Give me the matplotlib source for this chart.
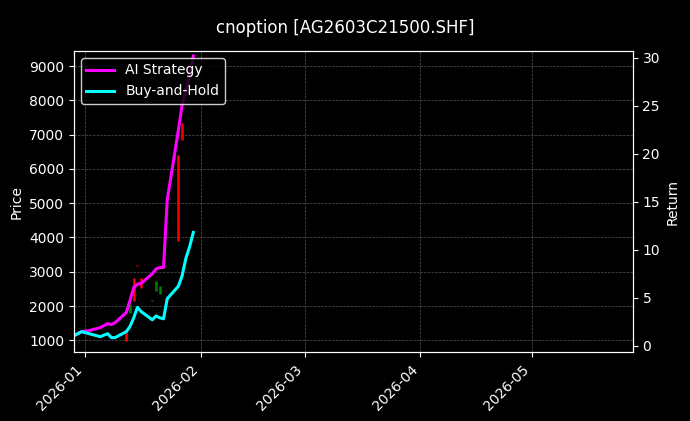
import matplotlib
matplotlib.use("Agg")
import matplotlib.pyplot as plt
import matplotlib.dates as mdates
import pandas as pd

plt.style.use("dark_background")

dates = pd.to_datetime(["2025-12-29","2025-12-31","2026-01-02","2026-01-05","2026-01-07","2026-01-08",
    "2026-01-09","2026-01-12","2026-01-13","2026-01-14","2026-01-15","2026-01-16","2026-01-19",
    "2026-01-20","2026-01-21","2026-01-22","2026-01-23","2026-01-26","2026-01-27","2026-01-28",
    "2026-01-29","2026-01-30"])
ai_ret = [1.05,1.46,1.57,1.88,2.3,2.2,2.4,3.45,4.7,6.06,6.4,6.5,7.5,8.0,8.15,8.15,15.2,22.5,25.1,26.6,28.2,30.2]
bh_ret = [1.05,1.46,1.25,0.94,1.25,0.84,0.84,1.46,2.0,2.9,4.0,3.55,2.7,3.1,2.9,2.8,4.9,6.2,7.3,9.1,10.3,11.8]

c_dates = pd.to_datetime(["2026-01-12","2026-01-13","2026-01-14","2026-01-15","2026-01-16",
    "2026-01-19","2026-01-20","2026-01-21","2026-01-26","2026-01-27"])
c_open  = [1260,1790,2820,3200,2820,2140,2440,2350,6400,7330]
c_close = [970,2060,2140,3180,2520,2190,2730,2580,3900,6840]

fig, ax = plt.subplots(figsize=(6.9, 4.21), dpi=100)
fig.patch.set_facecolor("black")
ax.set_facecolor("black")
fig.subplots_adjust(left=0.107, right=0.917, top=0.879, bottom=0.163)

for d, o, c in zip(c_dates, c_open, c_close):
    col = "green" if c >= o else "red"
    ax.vlines(d, min(o, c), max(o, c), color=col, linewidth=1.8)

ax.set_ylim(648, 9440)
ax.set_ylabel("Price")
ax.grid(True, linestyle="--", linewidth=0.5, color="#555555")
ax.set_xlim(pd.Timestamp("2025-12-28 22:00"), pd.Timestamp("2026-05-28"))
ax.xaxis.set_major_locator(mdates.MonthLocator())
ax.xaxis.set_major_formatter(mdates.DateFormatter("%Y-%m"))
plt.setp(ax.get_xticklabels(), rotation=45, ha="right")

ax2 = ax.twinx()
ax2.plot(dates, ai_ret, color="magenta", linewidth=2.2, label="AI Strategy")
ax2.plot(dates, bh_ret, color="cyan", linewidth=2.2, label="Buy-and-Hold")
ax2.set_ylim(-0.7, 30.73)
ax2.set_ylabel("Return")
leg = ax2.legend(loc="upper left", facecolor="black", edgecolor="white", framealpha=0.8)

fig.suptitle("cnoption [AG2603C21500.SHF]", y=0.955, fontsize=12)
fig.savefig("out.png", dpi=100, facecolor="black")
